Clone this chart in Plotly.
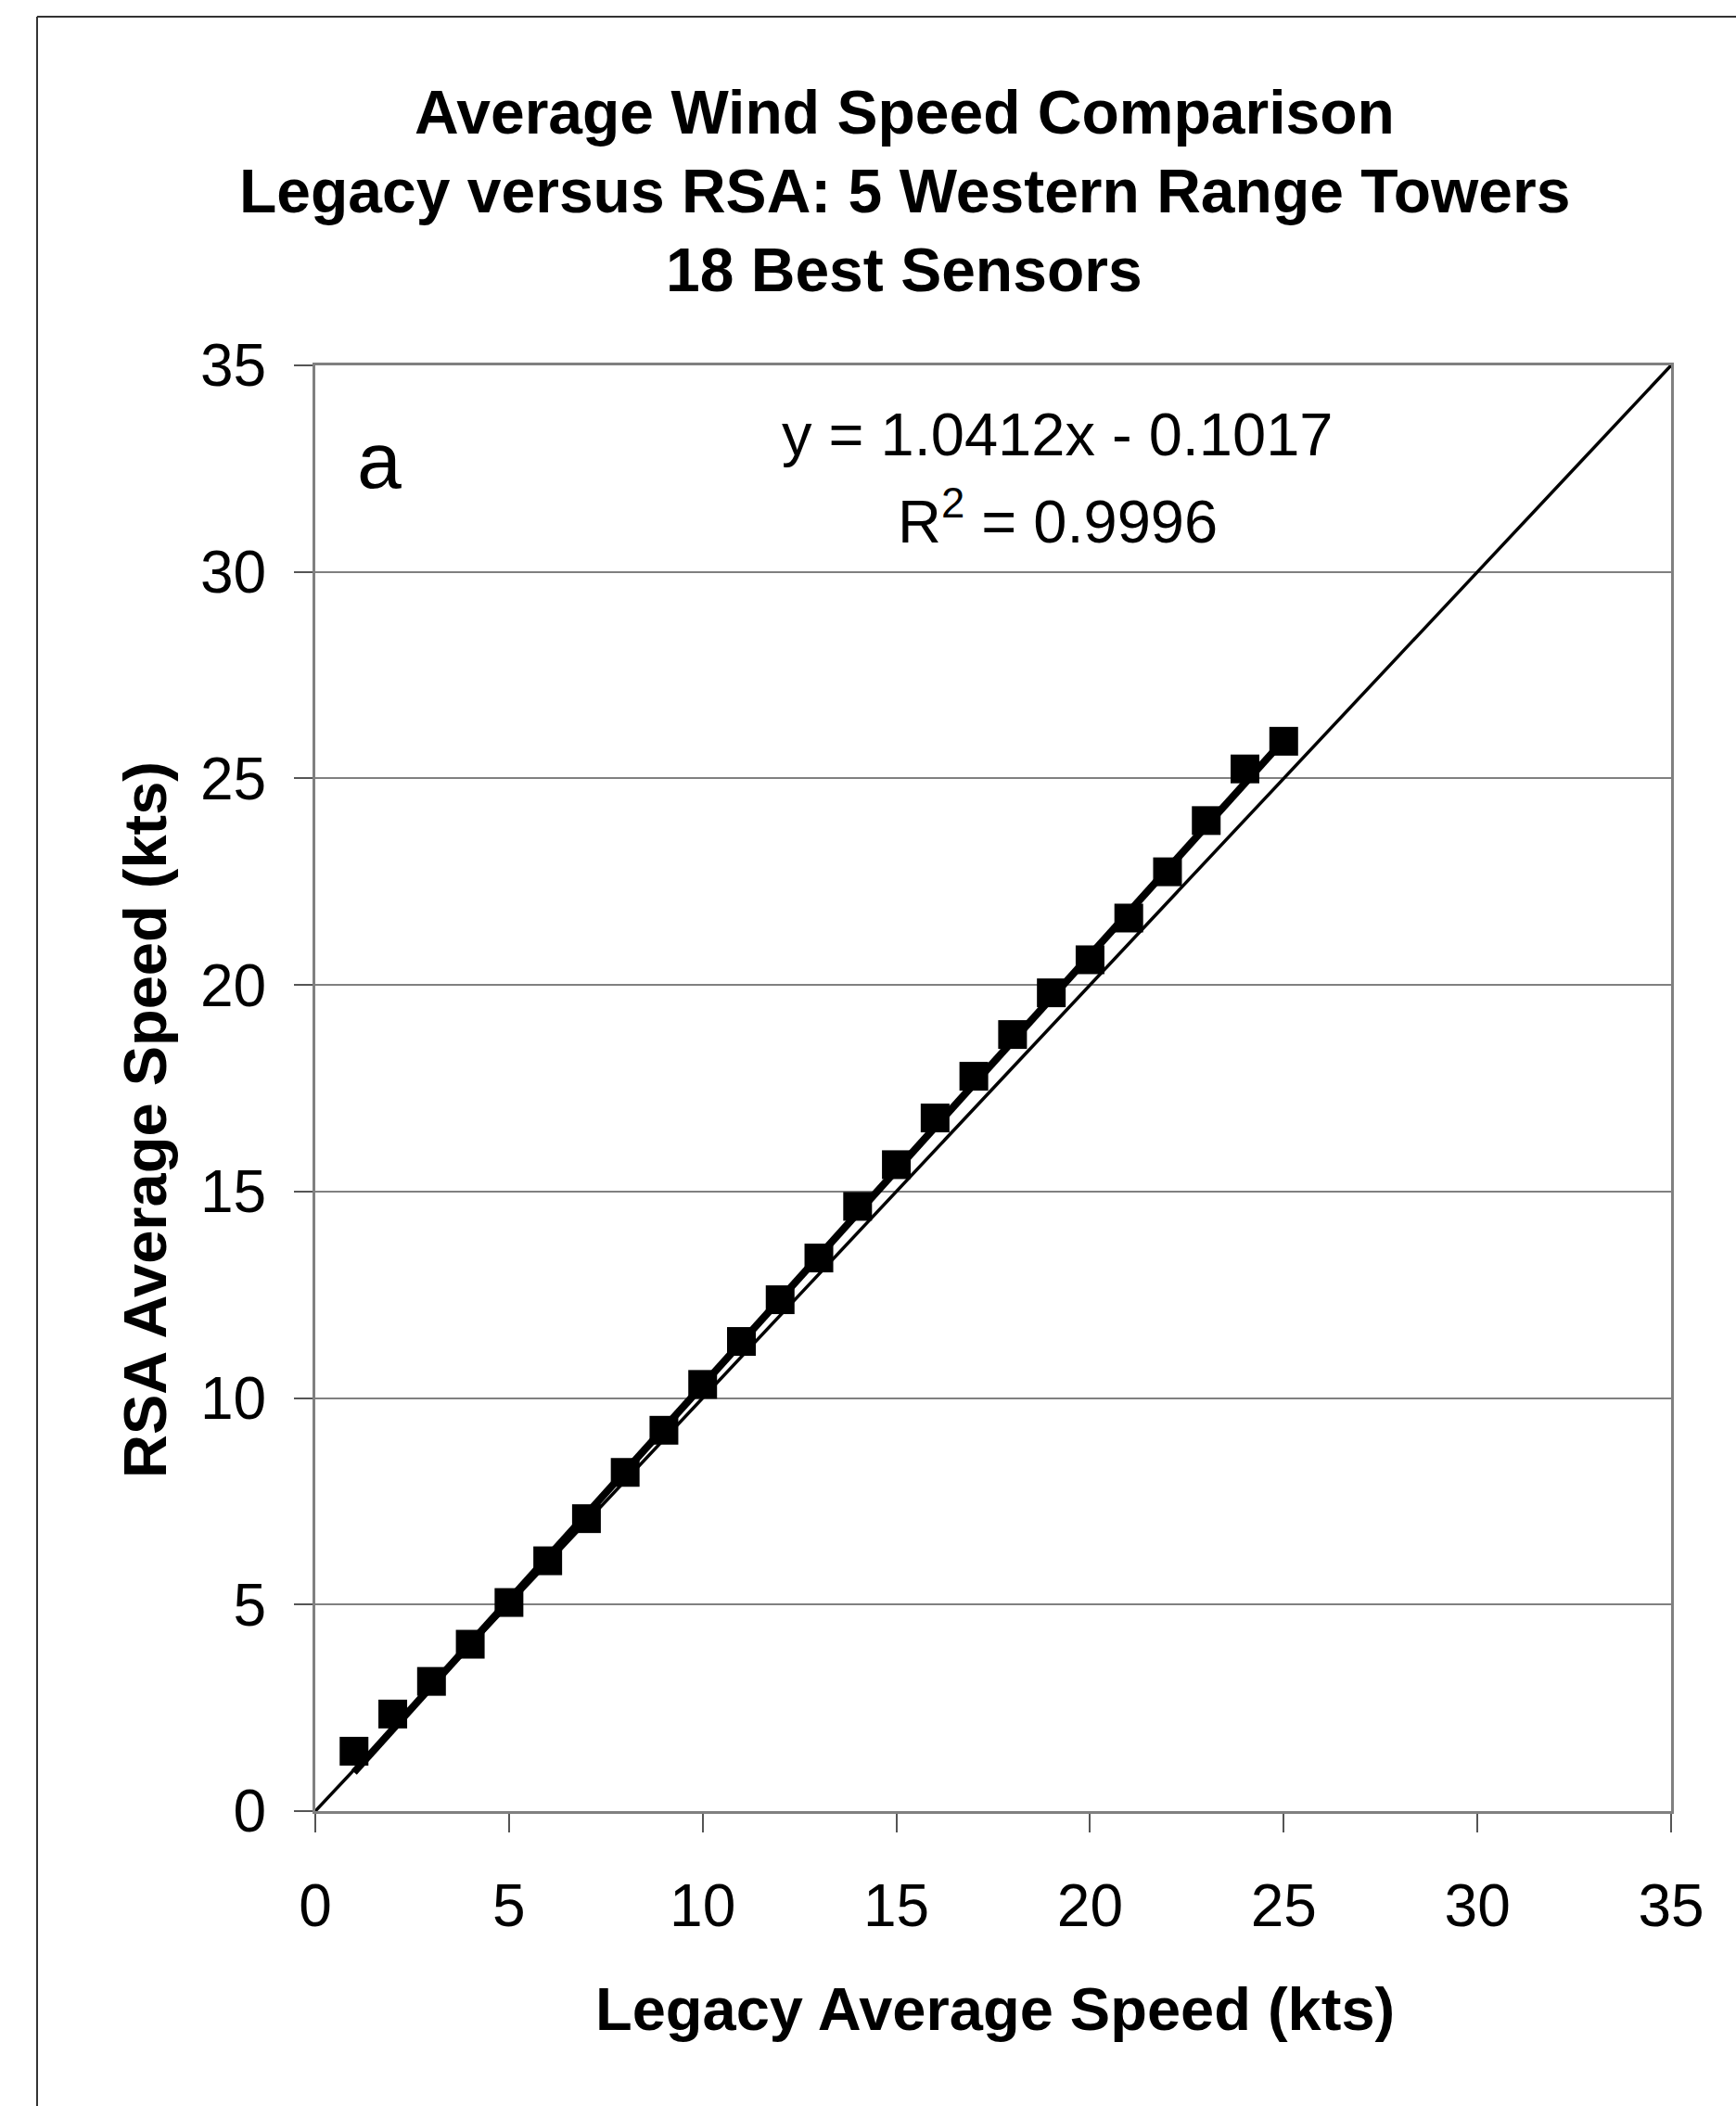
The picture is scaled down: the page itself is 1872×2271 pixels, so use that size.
import plotly.graph_objects as go

# Average wind speed by bin: legacy sensors (x) vs RSA sensors (y), knots
legacy_speed = [1, 2, 3, 4, 5, 6, 7, 8, 9, 10, 11, 12, 13, 14, 15, 16, 17, 18, 19, 20, 21, 22, 23, 24, 25]
rsa_speed = [1.45, 2.35, 3.14, 4.04, 5.05, 6.06, 7.08, 8.20, 9.22, 10.33, 11.37, 12.38, 13.39,
             14.64, 15.65, 16.78, 17.79, 18.80, 19.81, 20.61, 21.62, 22.74, 23.98, 25.23, 25.90]

# Linear fit reported on the chart
fit_slope = 1.0412
fit_intercept = -0.1017
fit_r2 = 0.9996

axis_ticks = [0, 5, 10, 15, 20, 25, 30, 35]

W, H = 1872, 2271
L, R, T, B = 340, 70, 394, 318
pw, ph = W - L - R, H - T - B


def px(x):
    return (x - L) / pw


def py(y):
    return (H - B - y) / ph


FONT = "Liberation Sans, Arial, sans-serif"

fit_x = [legacy_speed[0], legacy_speed[-1]]
fit_y = [fit_slope * v + fit_intercept for v in fit_x]

fig = go.Figure()

# 1:1 reference line
fig.add_trace(go.Scatter(x=[axis_ticks[0], axis_ticks[-1]], y=[axis_ticks[0], axis_ticks[-1]],
                         mode="lines", line=dict(color="black", width=3.5), hoverinfo="skip"))
# regression line
fig.add_trace(go.Scatter(x=fit_x, y=fit_y, mode="lines",
                         line=dict(color="black", width=8), hoverinfo="skip"))
# binned averages
fig.add_trace(go.Scatter(x=legacy_speed, y=rsa_speed, mode="markers",
                         marker=dict(symbol="square", size=31, color="black",
                                     line=dict(width=0))))

axis_common = dict(
    range=[0, 35], tickvals=axis_ticks, ticks="outside", ticklen=20,
    tickwidth=2, tickcolor="#555555", showline=True, linecolor="#808080",
    linewidth=3, mirror=True, zeroline=False,
    tickfont=dict(family=FONT, size=64, color="black"),
)

fig.update_xaxes(showgrid=False, ticklabelstandoff=24, **axis_common)
fig.update_yaxes(showgrid=True, gridcolor="#808080", gridwidth=2,
                 ticklabelstandoff=17, **axis_common)

annotations = []
title_lines = ["Average Wind Speed Comparison",
               "Legacy versus RSA: 5 Western Range Towers",
               "18 Best Sensors"]
for i, line in enumerate(title_lines):
    annotations.append(dict(text=line, x=px(975), y=py(121 + 85 * i), xref="paper", yref="paper",
                            xanchor="center", yanchor="middle", showarrow=False,
                            font=dict(family=FONT, size=66, color="black", weight="bold")))

annotations.append(dict(text="Legacy Average Speed (kts)", x=px(1073), y=py(2166),
                        xref="paper", yref="paper", xanchor="center", yanchor="middle",
                        showarrow=False,
                        font=dict(family=FONT, size=65, color="black", weight="bold")))
annotations.append(dict(text="RSA Average Speed (kts)", x=px(156), y=py(1208),
                        xref="paper", yref="paper", xanchor="center", yanchor="middle",
                        textangle=-90, showarrow=False,
                        font=dict(family=FONT, size=65, color="black", weight="bold")))

annotations.append(dict(text=f"y = {fit_slope:.4f}x - {abs(fit_intercept):.4f}",
                        x=px(1140), y=py(468), xref="paper", yref="paper",
                        xanchor="center", yanchor="middle", showarrow=False,
                        font=dict(family=FONT, size=65, color="black")))
annotations.append(dict(text=f"R<sup>2</sup> = {fit_r2:.4f}",
                        x=px(1140), y=py(558), xref="paper", yref="paper",
                        xanchor="center", yanchor="middle", showarrow=False,
                        font=dict(family=FONT, size=65, color="black")))
annotations.append(dict(text="a", x=px(409), y=py(496), xref="paper", yref="paper",
                        xanchor="center", yanchor="middle", showarrow=False,
                        font=dict(family=FONT, size=86, color="black")))

# outer chart frame (top and left edges)
shapes = [
    dict(type="line", xref="paper", yref="paper", x0=px(40), y0=py(18), x1=px(W + 5), y1=py(18),
         line=dict(color="#333333", width=2)),
    dict(type="line", xref="paper", yref="paper", x0=px(40), y0=py(18), x1=px(40), y1=py(H + 5),
         line=dict(color="#333333", width=2)),
]

fig.update_layout(
    width=W, height=H, margin=dict(l=L, r=R, t=T, b=B),
    paper_bgcolor="white", plot_bgcolor="white", showlegend=False,
    annotations=annotations, shapes=shapes,
)

fig.write_html("out.html")
